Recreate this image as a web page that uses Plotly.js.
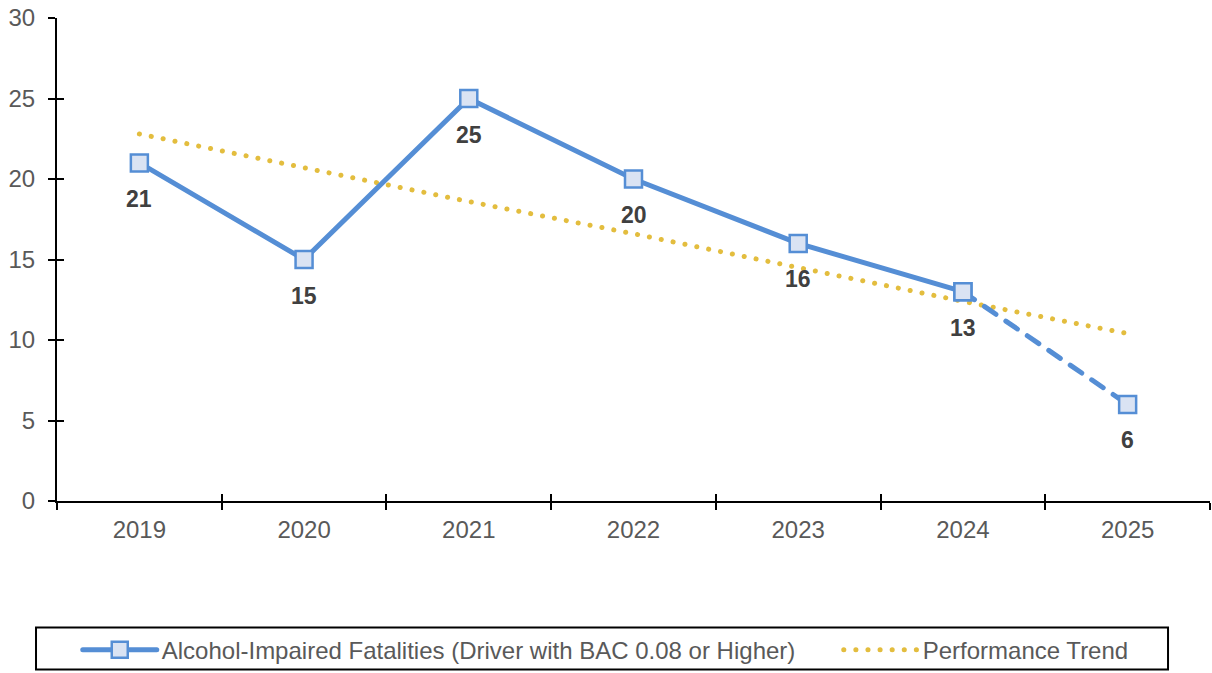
<!DOCTYPE html>
<html>
<head>
<meta charset="utf-8">
<script src="https://cdn.plot.ly/plotly-3.0.1.min.js"></script>
<style>
  html, body { margin: 0; padding: 0; background: #fff; }
  #chart { width: 1212px; height: 673px; }
  .scatterlayer .js-line { stroke-linecap: round; }
  .legendlines path { stroke-linecap: round; }
</style>
</head>
<body>
<div id="chart"></div>
<script>
const years = ["2019", "2020", "2021", "2022", "2023", "2024", "2025"];
const fatalities = [21, 15, 25, 20, 16, 13, 6];
const trend = [22.8, 20.7, 18.6, 16.6, 14.5, 12.4, 10.4];
const seriesName = "Alcohol-Impaired Fatalities (Driver with BAC 0.08 or Higher)";
const trendName = "Performance Trend";

const blue = "#558ed5";
const fill = "#dae3f3";
const gold = "#e3bd3e";
const font = "Liberation Sans, Arial, sans-serif";
const grey = "#595959";

const traces = [
  {
    x: years, y: trend, name: trendName, type: "scatter", mode: "lines",
    line: { color: gold, width: 5, dash: "0.1px,12px" }, hoverinfo: "skip",
    legend: "legend2"
  },
  {
    x: years.slice(5), y: fatalities.slice(5), type: "scatter", mode: "lines+markers",
    line: { color: blue, width: 5, dash: "14px,12px" },
    marker: { symbol: "square", size: 17, color: fill, line: { color: blue, width: 2.5 } },
    showlegend: false, hoverinfo: "skip"
  },
  {
    x: years.slice(0, 6), y: fatalities.slice(0, 6), name: seriesName, type: "scatter", mode: "lines+markers",
    line: { color: blue, width: 5 },
    marker: { symbol: "square", size: 17, color: fill, line: { color: blue, width: 2.5 } },
    hoverinfo: "skip", legend: "legend"
  },
  { x: [], y: [], xaxis: "x2", yaxis: "y2", showlegend: false, hoverinfo: "skip", type: "scatter" }
];

const annotations = years.map((yr, i) => ({
  x: i, y: fatalities[i], xref: "x", yref: "y", text: String(fatalities[i]),
  showarrow: false, yshift: -36,
  font: { family: font, size: 23, color: "#404040", weight: "bold" }
}));

const legendCommon = {
  orientation: "h", y: -0.306, yanchor: "middle", xanchor: "left",
  bgcolor: "rgba(0,0,0,0)", borderwidth: 0, itemwidth: 74,
  font: { family: font, size: 24, color: grey }
};

const layout = {
  width: 1212, height: 673,
  margin: { l: 57, r: 2, t: 18, b: 171 },
  paper_bgcolor: "#fff", plot_bgcolor: "rgba(0,0,0,0)",
  font: { family: font, size: 22, color: grey },
  showlegend: true,
  xaxis: {
    type: "category", categoryorder: "array", categoryarray: years,
    range: [-0.5, 6.5], tickson: "boundaries",
    ticks: "outside", ticklen: 7, tickwidth: 2, tickcolor: "#000", ticklabelstandoff: 6,
    showline: true, linecolor: "#000", linewidth: 2, showgrid: false, zeroline: false,
    tickfont: { family: font, size: 24, color: grey }, fixedrange: true, automargin: false
  },
  yaxis: {
    range: [0, 30], dtick: 5, tick0: 0,
    ticks: "outside", ticklen: 7, tickwidth: 2, tickcolor: "#000", ticklabelstandoff: 8,
    showline: true, linecolor: "#000", linewidth: 2, showgrid: false, zeroline: false,
    tickfont: { family: font, size: 24, color: grey }, fixedrange: true, automargin: false
  },
  xaxis2: {
    overlaying: "x", anchor: "y2", range: [-0.5, 6.5], tick0: -0.5, dtick: 1,
    ticks: "inside", ticklen: 7, tickwidth: 2, tickcolor: "#000",
    showticklabels: false, showline: false, showgrid: false, zeroline: false, fixedrange: true
  },
  yaxis2: {
    overlaying: "y", anchor: "x2", range: [0, 30], tick0: 0, dtick: 5,
    ticks: "inside", ticklen: 7, tickwidth: 2, tickcolor: "#000",
    showticklabels: false, showline: false, showgrid: false, zeroline: false, fixedrange: true
  },
  legend: Object.assign({}, legendCommon, { x: 0.018 }),
  legend2: Object.assign({}, legendCommon, { x: 0.678 }),
  shapes: [{
    type: "rect", xref: "paper", yref: "paper",
    x0: -0.0182, x1: 0.9636, y0: -0.349, y1: -0.262,
    line: { color: "#000", width: 2 }, fillcolor: "rgba(0,0,0,0)", layer: "below"
  }],
  annotations: annotations
};

Plotly.newPlot("chart", traces, layout, { displayModeBar: false, staticPlot: true });
</script>
</body>
</html>
